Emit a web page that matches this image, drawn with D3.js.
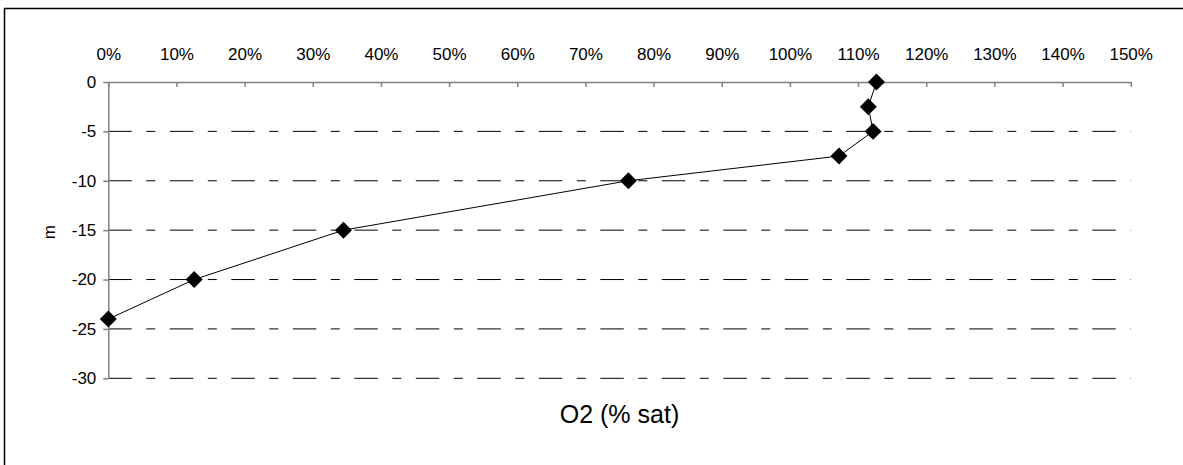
<!DOCTYPE html>
<html>
<head>
<meta charset="utf-8">
<script src="https://cdn.jsdelivr.net/npm/d3@7"></script>
<style>
  body { margin: 0; background: #fff; }
  text { font-family: "Liberation Sans", Arial, sans-serif; fill: #000; }
</style>
</head>
<body>
<svg id="chart"></svg>
<script>
// oxygen saturation profile
var depth = [0, -2.5, -5, -7.5, -10, -15, -20, -24];
var o2Sat = [1.127, 1.115, 1.122, 1.072, 0.763, 0.345, 0.126, 0];
var xTicks = [0, 0.1, 0.2, 0.3, 0.4, 0.5, 0.6, 0.7, 0.8, 0.9, 1.0, 1.1, 1.2, 1.3, 1.4, 1.5];
var yTicks = [0, -5, -10, -15, -20, -25, -30];
var xTitle = 'O2 (% sat)';
var yTitle = 'm';

var W = 1183, H = 465;
var svg = d3.select('#chart').attr('width', W).attr('height', H);

// outer frame (right / bottom edges fall outside the picture)
svg.append('rect')
  .attr('x', 4.5).attr('y', 8.5)
  .attr('width', W + 10).attr('height', H + 10)
  .attr('fill', 'none')
  .attr('stroke', '#000')
  .attr('stroke-width', 1.5);

var x = d3.scaleLinear().domain([0, 1.5]).range([108.3, 1130.7]);
var y = d3.scaleLinear().domain([0, -30]).range([82, 378.3]);

var points = depth.map(function(d, i) { return { d: d, v: o2Sat[i] }; });

// dashed grid lines
svg.append('g')
  .attr('class', 'grid')
  .selectAll('line')
  .data(yTicks.filter(function(t) { return t != 0; }))
  .enter()
  .append('line')
  .attr('x1', x(0)).attr('x2', x(1.5))
  .attr('y1', function(d) { return y(d); })
  .attr('y2', function(d) { return y(d); })
  .attr('stroke', '#000')
  .attr('stroke-width', 1)
  .attr('stroke-dasharray', '23.5,14.5,9,14.5');

// top axis
var xAxis = d3.axisTop(x)
  .tickValues(xTicks)
  .tickSizeInner(-5)
  .tickSizeOuter(0)
  .tickPadding(22)
  .tickFormat(d3.format('.0%'));

var gx = svg.append('g')
  .attr('transform', 'translate(0,' + y(0) + ')')
  .call(xAxis);
gx.attr('font-size', null).attr('font-family', null);
gx.select('.domain').attr('stroke', '#808080').attr('stroke-width', 1.5);
gx.selectAll('.tick line').attr('stroke', '#808080').attr('stroke-width', 1.5);
gx.selectAll('.tick text')
  .attr('dy', 0)
  .style('font-size', '17px');

// left axis
var yAxis = d3.axisLeft(y)
  .tickValues(yTicks)
  .tickSizeInner(5)
  .tickSizeOuter(0)
  .tickPadding(7)
  .tickFormat(d3.format('d'));

var gy = svg.append('g')
  .attr('transform', 'translate(' + x(0) + ',0)')
  .call(yAxis);
gy.attr('font-size', null).attr('font-family', null);
gy.select('.domain').attr('stroke', '#808080').attr('stroke-width', 1.5);
gy.selectAll('.tick line').attr('stroke', '#808080').attr('stroke-width', 1.5);
gy.selectAll('.tick text')
  .style('font-size', '17px')
  .text(function(d) { return d == 0 ? '0' : '-' + Math.abs(d); });

// profile line
var line = d3.line()
  .x(function(p) { return x(p.v); })
  .y(function(p) { return y(p.d); });

svg.append('path')
  .datum(points)
  .attr('d', line)
  .attr('fill', 'none')
  .attr('stroke', '#000')
  .attr('stroke-width', 1);

// diamond markers
svg.append('g')
  .selectAll('path')
  .data(points)
  .enter()
  .append('path')
  .attr('d', d3.symbol().type(d3.symbolSquare).size(144))
  .attr('transform', function(p) {
    return 'translate(' + x(p.v) + ',' + y(p.d) + ') rotate(45)';
  })
  .attr('fill', '#000');

// axis titles
svg.append('text')
  .attr('x', (x(0) + x(1.5)) / 2)
  .attr('y', 423)
  .attr('text-anchor', 'middle')
  .style('font-size', '25px')
  .text(xTitle);

svg.append('text')
  .attr('transform', 'translate(55,' + ((y(0) + y(-30)) / 2 + 2) + ') rotate(-90)')
  .attr('text-anchor', 'middle')
  .style('font-size', '17px')
  .text(yTitle);
</script>
</body>
</html>
